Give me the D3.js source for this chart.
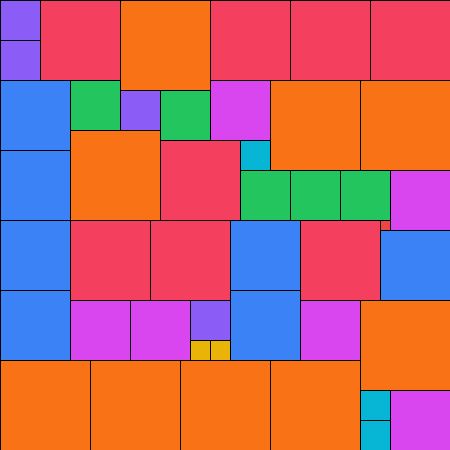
<!DOCTYPE html>
<html lang="en">
<head>
    <meta charset="UTF-8">
    <title>Square Packing</title>
    <script src="https://d3js.org/d3.v7.min.js"></script>
    <style>
        body { margin: 0; background: #fff; }
        svg { display: block; }
    </style>
</head>
<body>
    <svg></svg>

    <script>
        // squares in grid units (1 unit = 10px): column, row, side
        const squareX = [0, 0, 4, 12, 21, 29, 37,
                         0, 7, 12, 16, 21, 27, 36, 7, 16, 24, 0, 24, 29, 34, 39,
                         0, 7, 15, 23, 30, 38, 38,
                         0, 7, 13, 19, 19, 21, 23, 30, 36,
                         0, 9, 18, 27, 36, 36, 39];
        const squareY = [0, 4, 0, 0, 0, 0, 0,
                         8, 8, 9, 9, 8, 8, 8, 13, 14, 14, 15, 17, 17, 17, 17,
                         22, 22, 22, 22, 22, 22, 23,
                         29, 30, 30, 30, 34, 34, 29, 30, 30,
                         36, 36, 36, 36, 39, 42, 39];
        const squareSide = [4, 4, 8, 9, 8, 8, 8,
                            7, 5, 4, 5, 6, 9, 9, 9, 8, 3, 7, 5, 5, 5, 6,
                            7, 8, 8, 7, 8, 1, 7,
                            7, 6, 6, 4, 2, 2, 7, 6, 9,
                            9, 9, 9, 9, 3, 3, 6];

        const sides = [1, 2, 3, 4, 5, 6, 7, 8, 9];
        const colors = ["#ef4444", "#eab308", "#06b6d4", "#8b5cf6", "#22c55e",
                        "#d946ef", "#3b82f6", "#f43f5e", "#f97316"];

        const width = 450, height = 450;
        const svg = d3.select("svg").attr("width", width).attr("height", height);

        const x = d3.scaleLinear().domain([0, 45]).range([0, width]);
        const y = d3.scaleLinear().domain([0, 45]).range([0, height]);
        const color = d3.scaleOrdinal().domain(sides).range(colors);

        const squares = squareX.map((d, i) => ({ x: d, y: squareY[i], s: squareSide[i] }));

        svg.append("g")
            .selectAll("rect")
            .data(squares)
            .join("rect")
                .attr("x", d => x(d.x) + 0.5)
                .attr("y", d => y(d.y) + 0.5)
                .attr("width", d => x(d.s) - x(0))
                .attr("height", d => y(d.s) - y(0))
                .attr("fill", d => color(d.s))
                .attr("stroke", "#000")
                .attr("stroke-width", 1);
    </script>
</body>
</html>
